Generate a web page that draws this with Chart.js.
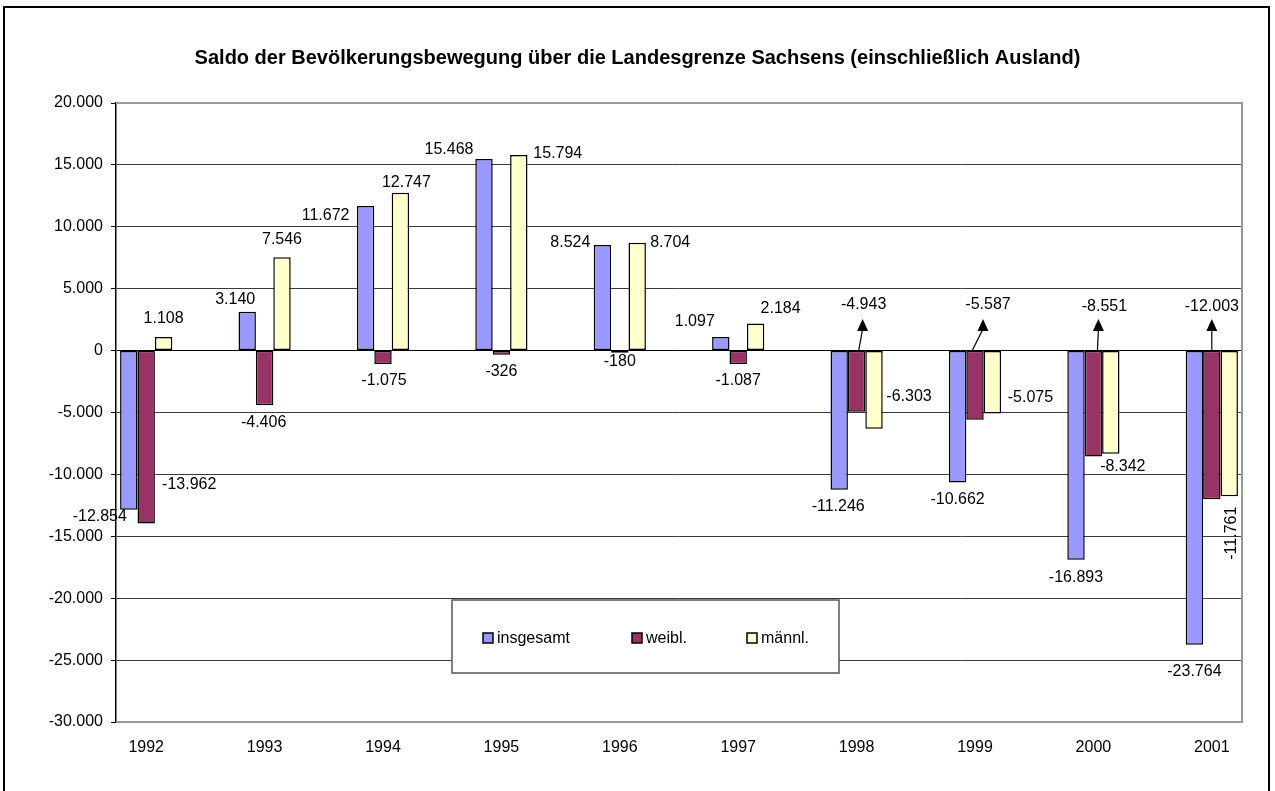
<!DOCTYPE html>
<html lang="de">
<head>
<meta charset="utf-8">
<title>Saldo der Bevölkerungsbewegung Sachsen</title>
<script src="https://cdn.jsdelivr.net/npm/chart.js@4.4.1/dist/chart.umd.min.js"></script>
<style>
  html, body { margin: 0; padding: 0; background: #fff; }
  canvas { display: block; }
</style>
</head>
<body>
<canvas id="saldoChart" width="1275" height="791"></canvas>
<script>
// Daten aus der Grafik
const jahre = ['1992', '1993', '1994', '1995', '1996', '1997', '1998', '1999', '2000', '2001'];
const insgesamt = [-12854, 3140, 11672, 15468, 8524, 1097, -11246, -10662, -16893, -23764];
const weibl = [-13962, -4406, -1075, -326, -180, -1087, -4943, -5587, -8551, -12003];
const maennl = [1108, 7546, 12747, 15794, 8704, 2184, -6303, -5075, -8342, -11761];
const yTicks = [20000, 15000, 10000, 5000, 0, -5000, -10000, -15000, -20000, -25000, -30000];

const serien = [
  { label: 'insgesamt', werte: insgesamt, farbe: '#9999ff' },
  { label: 'weibl.', werte: weibl, farbe: '#993366' },
  { label: 'männl.', werte: maennl, farbe: '#ffffcc' }
];

// Lage der Datenbeschriftungen (Pixelversatz zum Balkenende, wie im Original verschoben)
const beschriftung = [
  [{dx: -29, dy: 7}, {dx: -12, dy: -12}, {dx: -40, dy: 9}, {dx: -35, dy: -10}, {dx: -32, dy: -2},
   {dx: -26, dy: -15}, {dx: -1, dy: 17}, {dx: 0, dy: 17}, {dx: 0, dy: 18}, {dx: 0, dy: 27}],
  [{dx: 43, dy: -39}, {dx: -1, dy: 17}, {dx: 1, dy: 17}, {dx: 0, dy: 17}, {dx: 0, dy: 9},
   {dx: 0, dy: 17},
   {dx: 7, dy: -47, basis: true, pfeil: [2, 6]},
   {dx: 13, dy: -47, basis: true, pfeil: [-3, 8]},
   {dx: 11, dy: -45, basis: true, pfeil: [4, 5]},
   {dx: 0, dy: -45, basis: true, pfeil: [0, 0]}],
  [{dx: 0, dy: -18}, {dx: 0, dy: -18}, {dx: 6, dy: -10}, {dx: 39, dy: -1}, {dx: 33, dy: 0},
   {dx: 25, dy: -15}, {dx: 35, dy: -32}, {dx: 38, dy: -16}, {dx: 12, dy: 13}, {dx: 2, dy: 37, drehen: true}]
];

const schrift = '"Liberation Sans", Arial, sans-serif';

function formatZahl(v) {
  const s = Math.abs(v).toString().replace(/\B(?=(\d{3})+(?!\d))/g, '.');
  return (v < 0 ? '-' : '') + s;
}

// Hintergrund und äußerer Rahmen
const rahmenPlugin = {
  id: 'rahmen',
  beforeDraw(chart) {
    const ctx = chart.ctx;
    ctx.save();
    ctx.fillStyle = '#fff';
    ctx.fillRect(0, 0, chart.width, chart.height);
    ctx.strokeStyle = '#000';
    ctx.lineWidth = 2;
    ctx.strokeRect(4, 7, 1265, 800);
    ctx.restore();
  }
};

// Zeichenflächenrahmen, Datenbeschriftungen und Pfeile
const beschriftungPlugin = {
  id: 'beschriftung',
  afterDatasetsDraw(chart) {
    const ctx = chart.ctx;
    const a = chart.chartArea;
    ctx.save();
    ctx.strokeStyle = '#999';
    ctx.lineWidth = 2;
    ctx.beginPath();
    ctx.moveTo(a.left, a.top);
    ctx.lineTo(a.right, a.top);
    ctx.lineTo(a.right, a.bottom);
    ctx.lineTo(a.left, a.bottom);
    ctx.stroke();

    ctx.font = '16px ' + schrift;
    ctx.fillStyle = '#000';
    ctx.strokeStyle = '#000';
    ctx.textAlign = 'center';
    ctx.textBaseline = 'middle';
    chart.data.datasets.forEach((ds, i) => {
      const meta = chart.getDatasetMeta(i);
      meta.data.forEach((bar, j) => {
        const b = beschriftung[i][j];
        const y0 = b.basis ? bar.base : bar.y;
        const tx = bar.x + b.dx;
        const ty = y0 + b.dy;
        const text = formatZahl(ds.data[j].y);
        if (b.drehen) {
          ctx.save();
          ctx.translate(tx, ty);
          ctx.rotate(-Math.PI / 2);
          ctx.fillText(text, 0, 0);
          ctx.restore();
        } else {
          ctx.fillText(text, tx, ty);
        }
        if (b.pfeil) {
          const sx = bar.x + b.pfeil[0];
          const px = bar.x + b.pfeil[1];
          const spitze = bar.base - 32;
          ctx.lineWidth = 1.2;
          ctx.beginPath();
          ctx.moveTo(sx, bar.base);
          ctx.lineTo(px, spitze + 10);
          ctx.stroke();
          ctx.beginPath();
          ctx.moveTo(px, spitze);
          ctx.lineTo(px - 5.5, spitze + 12);
          ctx.lineTo(px + 5.5, spitze + 12);
          ctx.closePath();
          ctx.fill();
        }
      });
    });
    ctx.restore();
  },
  afterDraw(chart) {
    // Legende als Kasten in der Zeichenfläche
    const ctx = chart.ctx;
    ctx.save();
    ctx.fillStyle = '#fff';
    ctx.fillRect(452, 600, 387, 73);
    ctx.strokeStyle = '#555';
    ctx.lineWidth = 1.5;
    ctx.strokeRect(452, 600, 387, 73);
    const xs = [483, 632, 747];
    ctx.font = '16px ' + schrift;
    ctx.textBaseline = 'middle';
    ctx.textAlign = 'left';
    chart.data.datasets.forEach((ds, i) => {
      ctx.fillStyle = ds.backgroundColor;
      ctx.fillRect(xs[i], 633, 10, 10);
      ctx.strokeStyle = '#000';
      ctx.lineWidth = 1.5;
      ctx.strokeRect(xs[i], 633, 10, 10);
      ctx.fillStyle = '#000';
      ctx.fillText(ds.label, xs[i] + 14, 639);
    });
    ctx.restore();
  }
};

const ctx = document.getElementById('saldoChart').getContext('2d');
const saldoChart = new Chart(ctx, {
  type: 'bar',
  data: {
    datasets: serien.map(s => ({
      label: s.label,
      data: s.werte.map((v, i) => ({ x: i, y: v })),
      backgroundColor: s.farbe,
      borderColor: '#000',
      borderWidth: 1.5,
      borderSkipped: false,
      categoryPercentage: 0.441,
      barPercentage: 1.0
    }))
  },
  options: {
    responsive: false,
    animation: false,
    devicePixelRatio: 1,
    layout: {
      padding: { left: 33, right: 33, top: 0, bottom: 0 }
    },
    scales: {
      x: {
        type: 'linear',
        offset: false,
        min: -0.255,
        max: 9.255,
        afterBuildTicks: scale => {
          scale.ticks = jahre.map((j, i) => ({ value: i }));
        },
        afterFit: scale => { scale.height = 69; },
        grid: { display: false, offset: false },
        border: { display: false },
        ticks: {
          padding: 8,
          maxRotation: 0,
          autoSkip: false,
          color: '#000',
          font: { family: schrift, size: 16 },
          callback: value => jahre[value]
        }
      },
      y: {
        min: Math.min(...yTicks),
        max: Math.max(...yTicks),
        afterBuildTicks: scale => {
          scale.ticks = yTicks.map(v => ({ value: v }));
        },
        afterFit: scale => { scale.width = 83; },
        border: { display: true, color: '#000', width: 1.5 },
        grid: {
          color: c => (c.tick && c.tick.value === 0) ? '#000' : '#3a3a3a',
          lineWidth: 1,
          tickColor: '#000',
          tickLength: 5
        },
        ticks: {
          padding: 8,
          color: '#000',
          font: { family: schrift, size: 16 },
          callback: value => formatZahl(value)
        }
      }
    },
    plugins: {
      legend: { display: false },
      tooltip: { enabled: false },
      title: {
        display: true,
        text: 'Saldo der Bevölkerungsbewegung über die Landesgrenze Sachsens (einschließlich Ausland)',
        color: '#000',
        font: { family: schrift, size: 20, weight: 'bold' },
        padding: { top: 46, bottom: 33 }
      }
    }
  },
  plugins: [rahmenPlugin, beschriftungPlugin]
});
</script>
</body>
</html>
